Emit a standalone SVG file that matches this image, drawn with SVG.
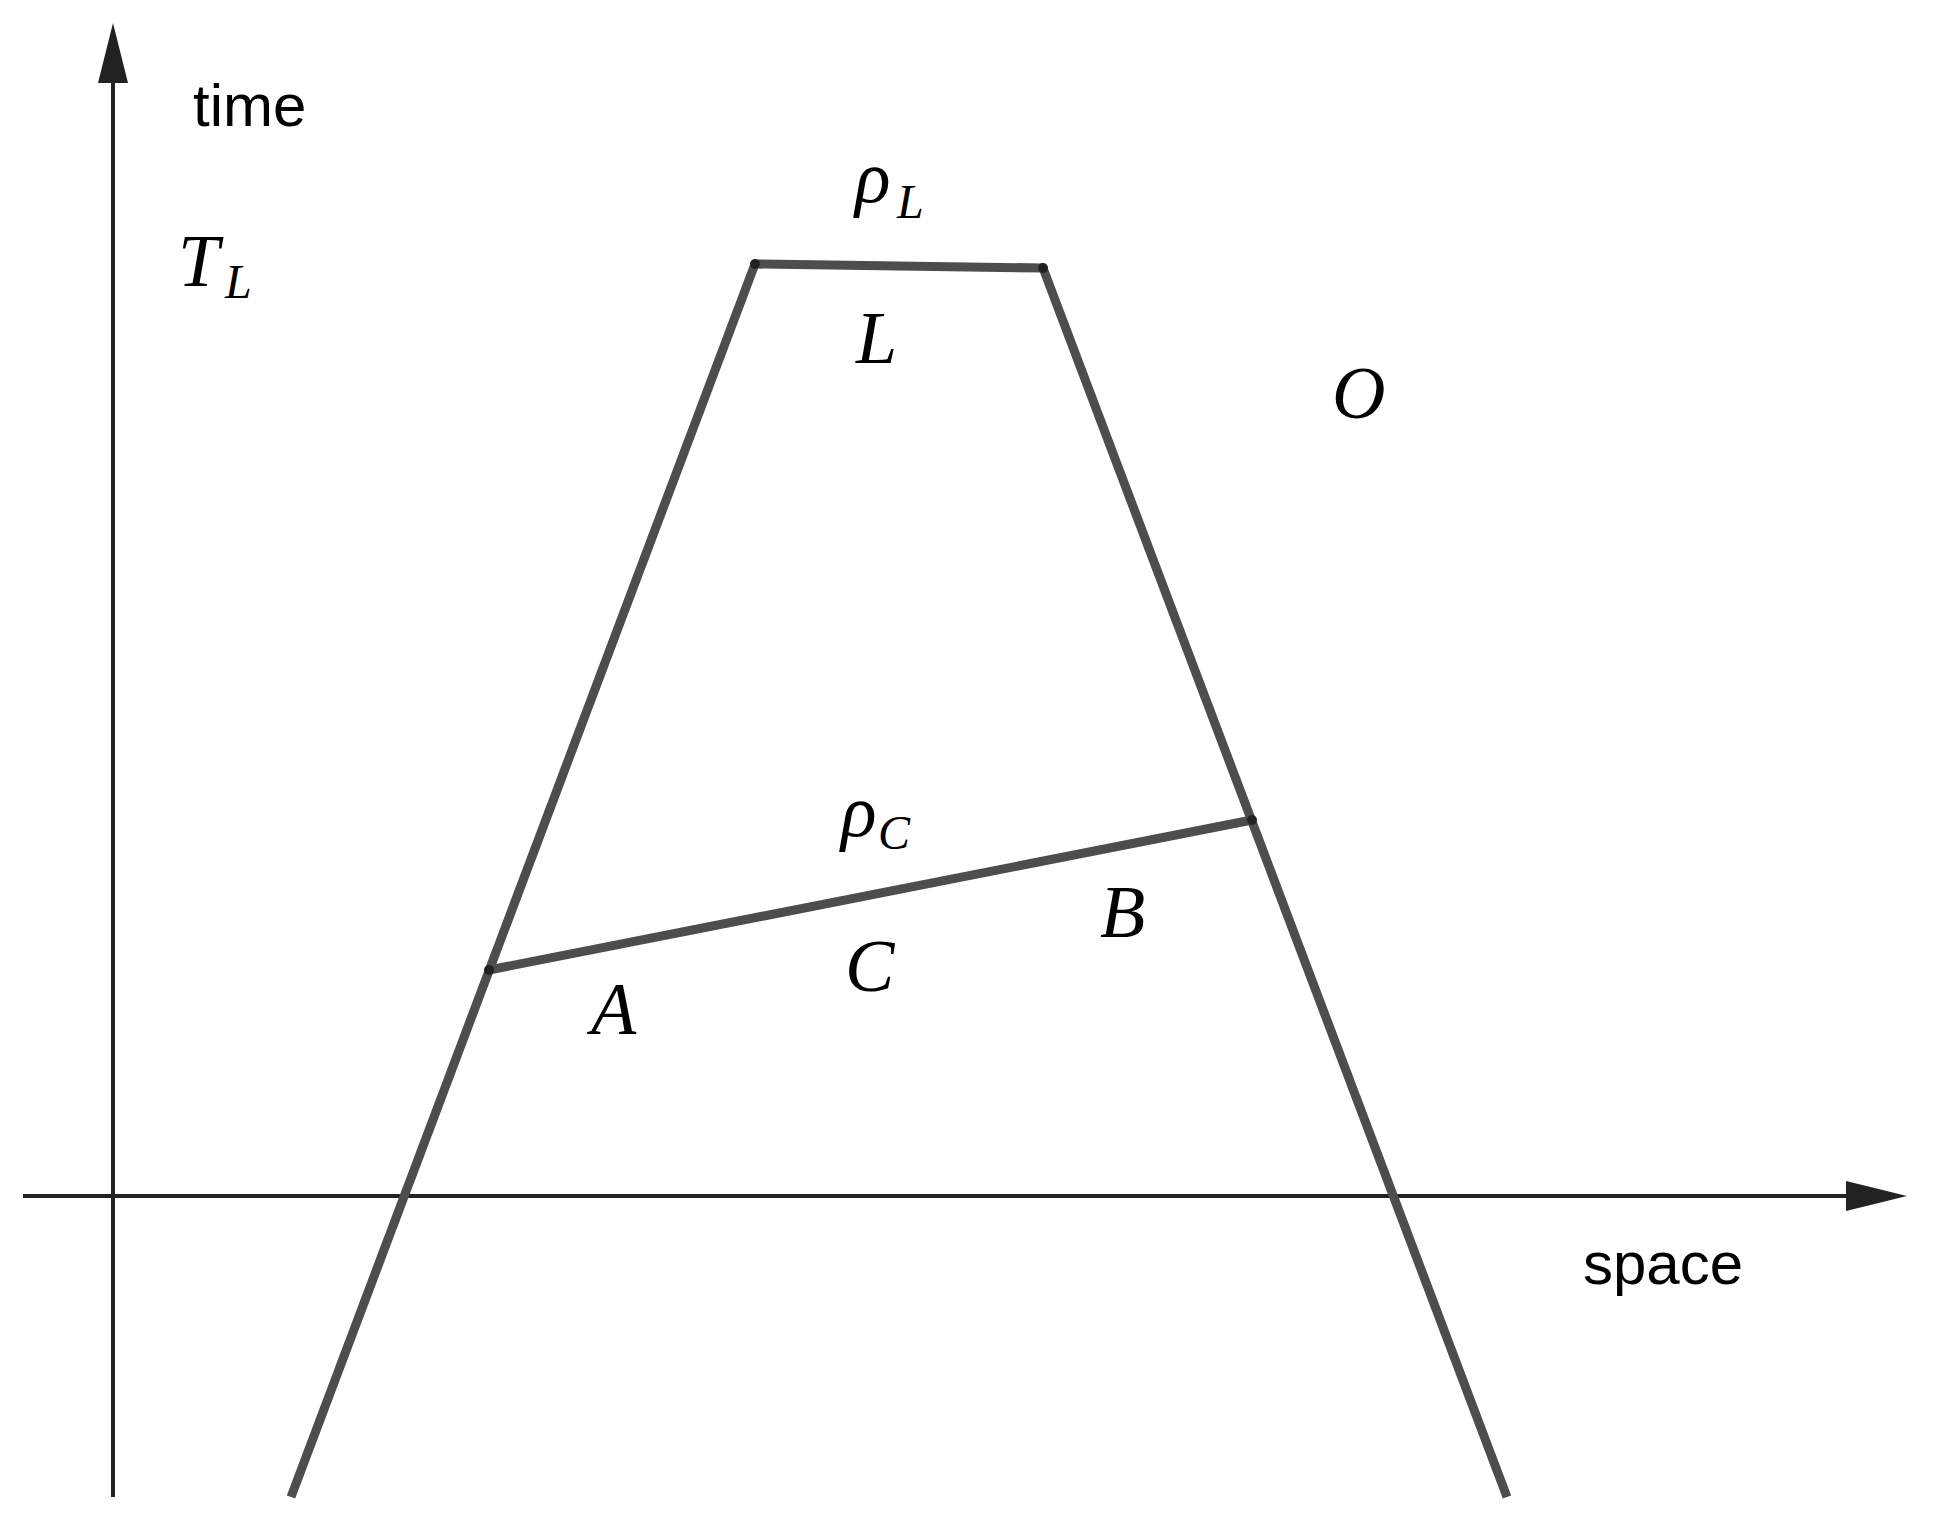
<svg xmlns="http://www.w3.org/2000/svg" width="1937" height="1529" viewBox="0 0 1937 1529">
<style>
.axis{stroke:#222;stroke-width:4;fill:none}
.wall{stroke:#4d4d4d;stroke-width:9;fill:none;stroke-linecap:butt}
.dot{fill:#222}
.lab{font-family:"Liberation Sans",Arial,sans-serif;font-size:60px;fill:#000}
.m{font-family:"Liberation Serif","Times New Roman",serif;font-style:italic;font-size:74px;fill:#000}
.s{font-family:"Liberation Serif","Times New Roman",serif;font-style:italic;font-size:48px;fill:#000}
</style>
<rect width="1937" height="1529" fill="#fff"/>
<g id="axes">
<line class="axis" x1="113" y1="1497" x2="113" y2="80"/>
<polygon fill="#222" points="113,23 128,83 98,83"/>
<line class="axis" x1="23" y1="1196" x2="1850" y2="1196"/>
<polygon fill="#222" points="1907,1196 1846,1181 1846,1211"/>
<text class="lab" x="193" y="126">time</text>
<text class="lab" x="1583" y="1284">space</text>
</g>
<g id="connectors">
<line class="wall" x1="755" y1="264" x2="291" y2="1497"/>
<line class="wall" x1="1043" y1="268" x2="1507" y2="1497"/>
<line class="wall" x1="755" y1="264" x2="1043" y2="268"/>
<line class="wall" x1="489" y1="970" x2="1252" y2="820"/>
<circle class="dot" cx="755" cy="264" r="5"/>
<circle class="dot" cx="1043" cy="268" r="5"/>
<circle class="dot" cx="489" cy="970" r="5"/>
<circle class="dot" cx="1252" cy="820" r="5"/>
</g>
<g id="label-TL"><text class="m" x="178" y="286" font-size="78">T</text><text class="s" x="225" y="298">L</text></g>
<g id="label-rhoL"><text class="m" x="855" y="202">ρ</text><text class="s" x="897" y="218">L</text></g>
<g id="region-L"><text class="m" x="856" y="363">L</text></g>
<g id="region-O"><text class="m" x="1332" y="418">O</text></g>
<g id="label-rhoC"><text class="m" x="841" y="836">ρ</text><text class="s" x="878" y="849">C</text></g>
<g id="region-A"><text class="m" x="591" y="1034">A</text></g>
<g id="region-B"><text class="m" x="1100" y="937">B</text></g>
<g id="region-C"><text class="m" x="845" y="991">C</text></g>
</svg>
